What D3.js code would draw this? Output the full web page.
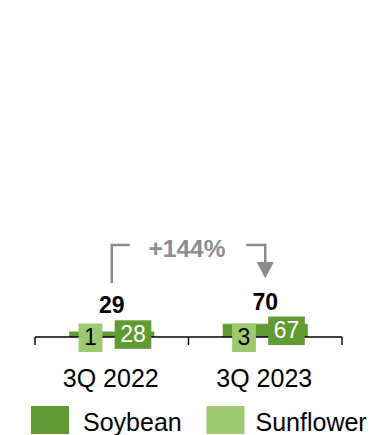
<!DOCTYPE html>
<html>
<head>
<meta charset="utf-8">
<script src="https://cdn.jsdelivr.net/npm/d3@7"></script>
<style>
  html, body { margin: 0; padding: 0; background: #fff; }
  svg { display: block; font-family: "Liberation Sans", Arial, Helvetica, sans-serif; }
</style>
</head>
<body>
<svg id="chart" width="375" height="435"></svg>
<script>
// Quarterly volumes by crop
const categories = ["3Q 2022", "3Q 2023"];
const seriesNames = ["Soybean", "Sunflower"];
const soybean = [28, 67];
const sunflower = [1, 3];
const totals = [29, 70];
const changeLabel = "+144%";

const colors = { Soybean: "#5f9b32", Sunflower: "#9dca70" };
const grey = "#8c8c8c";

const svg = d3.select("#chart");

// Scales
const x = d3.scaleBand().domain(categories).range([35, 342]).padding(0);
const barW = x.bandwidth() * 0.554;
const barX = c => x(c) + (x.bandwidth() - barW) / 2;
const y = d3.scaleLinear().domain([0, 1750]).range([337, 0]);

// Stack
const rows = categories.map((c, i) => ({ cat: c, Soybean: soybean[i], Sunflower: sunflower[i] }));
const stack = d3.stack().keys(seriesNames)(rows);

// Bars
svg.append("g").selectAll("g")
  .data(stack).join("g")
  .attr("fill", d => colors[d.key])
  .selectAll("rect")
  .data(d => d).join("rect")
  .attr("x", d => barX(d.data.cat))
  .attr("width", barW)
  .attr("y", d => y(d[1]))
  .attr("height", d => y(d[0]) - y(d[1]));

// Baseline axis with separators at category edges
const axisG = svg.append("g").attr("stroke", "#000").attr("stroke-width", 1.4);
const [r0, r1] = x.range();
axisG.append("line").attr("x1", r0).attr("x2", r1).attr("y1", y(0)).attr("y2", y(0));
const edges = categories.map(c => x(c)).concat([r1]);
axisG.selectAll("line.tick").data(edges).join("line").attr("class", "tick")
  .attr("x1", d => d).attr("x2", d => d)
  .attr("y1", y(0)).attr("y2", y(0) + 8);

// Boxed value labels
function boxLabel(g, cx, cy, text, fill, textColor) {
  const t = g.append("text")
    .attr("x", cx).attr("y", cy + 7.5)
    .attr("text-anchor", "middle")
    .attr("font-size", 23)
    .attr("fill", textColor)
    .text(text);
  const w = t.node().getComputedTextLength() + 11;
  g.insert("rect", "text")
    .attr("x", cx - w / 2).attr("y", cy - 14)
    .attr("width", w).attr("height", 28.5)
    .attr("fill", fill);
}

categories.forEach((c, i) => {
  const left = barX(c);
  const soyMid = (y(0) + y(soybean[i])) / 2;
  boxLabel(svg.append("g"), left + barW * 0.25, y(0) + 0.5, sunflower[i], colors.Sunflower, "#000");
  boxLabel(svg.append("g"), left + barW * 0.75, soyMid, soybean[i], colors.Soybean, "#fff");
  svg.append("text")
    .attr("x", left + barW / 2).attr("y", soyMid - 21)
    .attr("text-anchor", "middle")
    .attr("font-size", 23).attr("font-weight", "bold")
    .attr("fill", "#000")
    .text(totals[i]);
  svg.append("text")
    .attr("x", left + barW / 2 - 1).attr("y", 387)
    .attr("text-anchor", "middle")
    .attr("font-size", 25)
    .attr("fill", "#000")
    .text(c);
});

// Growth bracket between the two bars
const cx0 = barX(categories[0]) + barW / 2;
const cx1 = barX(categories[1]) + barW / 2;
const topY = 245;
const ann = svg.append("g");
ann.append("path")
  .attr("d", `M${cx0},283 V${topY} H${cx0 + 18}`)
  .attr("fill", "none").attr("stroke", grey).attr("stroke-width", 2.5);
ann.append("path")
  .attr("d", `M${cx1 - 19},${topY} H${cx1} V${263}`)
  .attr("fill", "none").attr("stroke", grey).attr("stroke-width", 2.5);
ann.append("path")
  .attr("d", `M${cx1 - 8.5},262 L${cx1 + 8.5},262 L${cx1},278.5 Z`)
  .attr("fill", grey);
ann.append("text")
  .attr("x", (cx0 + cx1) / 2 - 1.5).attr("y", 257)
  .attr("text-anchor", "middle")
  .attr("font-size", 24.5).attr("font-weight", "bold")
  .attr("fill", grey)
  .text(changeLabel);

// Legend
const legendX = [31, 206.5];
const legendTextOffset = [52, 49];
const lg = svg.append("g").selectAll("g").data(seriesNames).join("g")
  .attr("transform", (d, i) => `translate(${legendX[i]},406)`);
lg.append("rect").attr("width", 38).attr("height", 28).attr("fill", d => colors[d]);
lg.append("text").attr("x", (d, i) => legendTextOffset[i]).attr("y", 25)
  .attr("font-size", 25).attr("fill", "#000").text(d => d);
</script>
</body>
</html>
